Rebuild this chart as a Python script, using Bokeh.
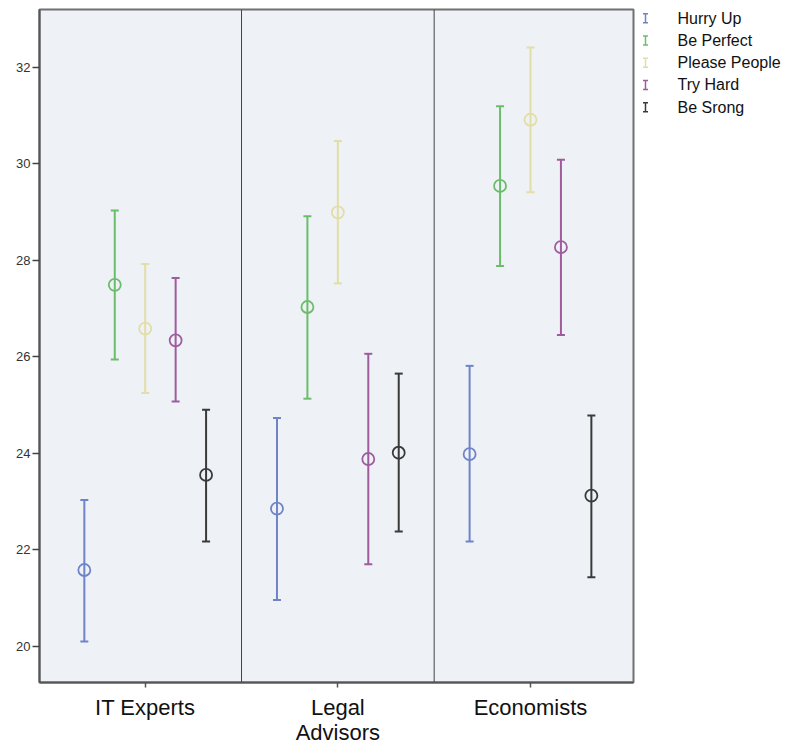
from bokeh.plotting import figure
from bokeh.models import Range1d, FixedTicker, Span, Whisker, TeeHead, ColumnDataSource
from bokeh.layouts import row
from bokeh.embed import file_html
from bokeh.resources import INLINE
from bokeh.core.properties import value

# ---- data ----
groups = ["IT Experts", "Legal\nAdvisors", "Economists"]
series = ["Hurry Up", "Be Perfect", "Please People", "Try Hard", "Be Srong"]
colors = ["#6f84c6", "#6cbd6b", "#e2dea6", "#9e5c9d", "#3a3a3a"]

hurry_mean = [21.58, 22.85, 23.98]
hurry_low = [20.10, 20.96, 22.17]
hurry_high = [23.03, 24.73, 25.81]

perfect_mean = [27.49, 27.03, 29.54]
perfect_low = [25.94, 25.13, 27.88]
perfect_high = [29.03, 28.91, 31.19]

please_mean = [26.58, 28.99, 30.91]
please_low = [25.25, 27.52, 29.41]
please_high = [27.92, 30.47, 32.41]

try_mean = [26.34, 23.88, 28.27]
try_low = [25.07, 21.70, 26.45]
try_high = [27.63, 26.06, 30.08]

strong_mean = [23.55, 24.01, 23.12]
strong_low = [22.17, 22.38, 21.43]
strong_high = [24.90, 25.65, 24.78]

y_ticks = [20, 22, 24, 26, 28, 30, 32]

means = [hurry_mean, perfect_mean, please_mean, try_mean, strong_mean]
lows = [hurry_low, perfect_low, please_low, try_low, strong_low]
highs = [hurry_high, perfect_high, please_high, try_high, strong_high]

FONT = "Liberation Sans"
step = 0.158  # dodge between series inside a group

H = 747
TOP, BOTTOM = 9, 64

p = figure(width=635, height=H,
           x_range=Range1d(-0.0487, 3.0347), y_range=Range1d(19.249, 33.195),
           output_backend="svg", toolbar_location=None,
           min_border_left=39, min_border_right=2, min_border_top=TOP, min_border_bottom=BOTTOM)

p.border_fill_color = "white"
p.background_fill_color = "#eef1f6"
p.outline_line_color = "#707070"
p.outline_line_width = 2
p.grid.visible = False

centers = [i + 0.5 for i in range(len(groups))]

for si, name in enumerate(series):
    xs = [c + (si - 2) * step for c in centers]
    src = ColumnDataSource(dict(x=xs, mean=means[si], lower=lows[si], upper=highs[si]))
    w = Whisker(base="x", lower="lower", upper="upper", source=src, dimension="height",
                line_color=colors[si], line_width=2,
                upper_head=TeeHead(size=8, line_color=colors[si], line_width=2),
                lower_head=TeeHead(size=8, line_color=colors[si], line_width=2))
    p.add_layout(w)
    p.scatter("x", "mean", source=src, marker="circle", size=12,
              fill_color=None, line_color=colors[si], line_width=1.8)

for b in range(1, len(groups)):
    p.add_layout(Span(location=b, dimension="height", line_color="#444444", line_width=1))

# axes
p.xaxis.ticker = FixedTicker(ticks=centers)
p.xaxis.major_label_overrides = {c: g for c, g in zip(centers, groups)}
p.xaxis.major_label_text_font = FONT
p.xaxis.major_label_text_font_size = "22px"
p.xaxis.major_label_text_line_height = 1.0
p.xaxis.major_label_text_color = "#111111"
p.xaxis.major_label_standoff = 7
p.xaxis.major_tick_out = 5
p.xaxis.major_tick_in = 0
p.xaxis.minor_tick_line_color = None
p.xaxis.axis_line_color = "#555555"
p.xaxis.axis_line_width = 2
p.xaxis.major_tick_line_color = "#555555"
p.xaxis.major_tick_line_width = 1.5

p.yaxis.ticker = FixedTicker(ticks=y_ticks)
p.yaxis.major_label_text_font = FONT
p.yaxis.major_label_text_font_size = "13px"
p.yaxis.major_label_text_color = "#333333"
p.yaxis.major_tick_out = 7
p.yaxis.major_tick_in = 0
p.yaxis.minor_tick_line_color = None
p.yaxis.axis_line_color = "#555555"
p.yaxis.axis_line_width = 2
p.yaxis.major_tick_line_color = "#444444"
p.yaxis.major_tick_line_width = 1.5
p.yaxis.major_label_standoff = 2

# ---- legend panel (error-bar icons + labels), frame aligned with the plot frame ----
LW = 154
lg = figure(width=LW, height=H, x_range=Range1d(0, LW), y_range=Range1d(H - BOTTOM, TOP),
            output_backend="svg", toolbar_location=None,
            min_border_left=0, min_border_right=0, min_border_top=TOP, min_border_bottom=BOTTOM,
            outline_line_color=None)
lg.axis.visible = False
lg.grid.visible = False
lg.background_fill_color = None
lg.border_fill_color = None

row0, row_dy, icon_x, text_x, half_h, cap = 17.7, 22.3, 10, 42, 4.5, 2.5
ly = [row0 + i * row_dy for i in range(len(series))]
lsrc = ColumnDataSource(dict(
    x=[icon_x] * len(series), y=ly,
    y0=[y - half_h for y in ly], y1=[y + half_h for y in ly],
    xl=[icon_x - cap] * len(series), xr=[icon_x + cap] * len(series),
    tx=[text_x] * len(series), label=series, color=colors))
lg.segment(x0="x", y0="y0", x1="x", y1="y1", source=lsrc, line_color="color", line_width=1.5)
lg.segment(x0="xl", y0="y0", x1="xr", y1="y0", source=lsrc, line_color="color", line_width=1.5)
lg.segment(x0="xl", y0="y1", x1="xr", y1="y1", source=lsrc, line_color="color", line_width=1.5)
lg.text(x="tx", y="y", text="label", source=lsrc, text_font=value(FONT),
        text_font_size="16px", text_baseline="middle", text_align="left", text_color="#111111")

layout = row(p, lg)
open("out.html", "w").write(file_html(layout, INLINE))
